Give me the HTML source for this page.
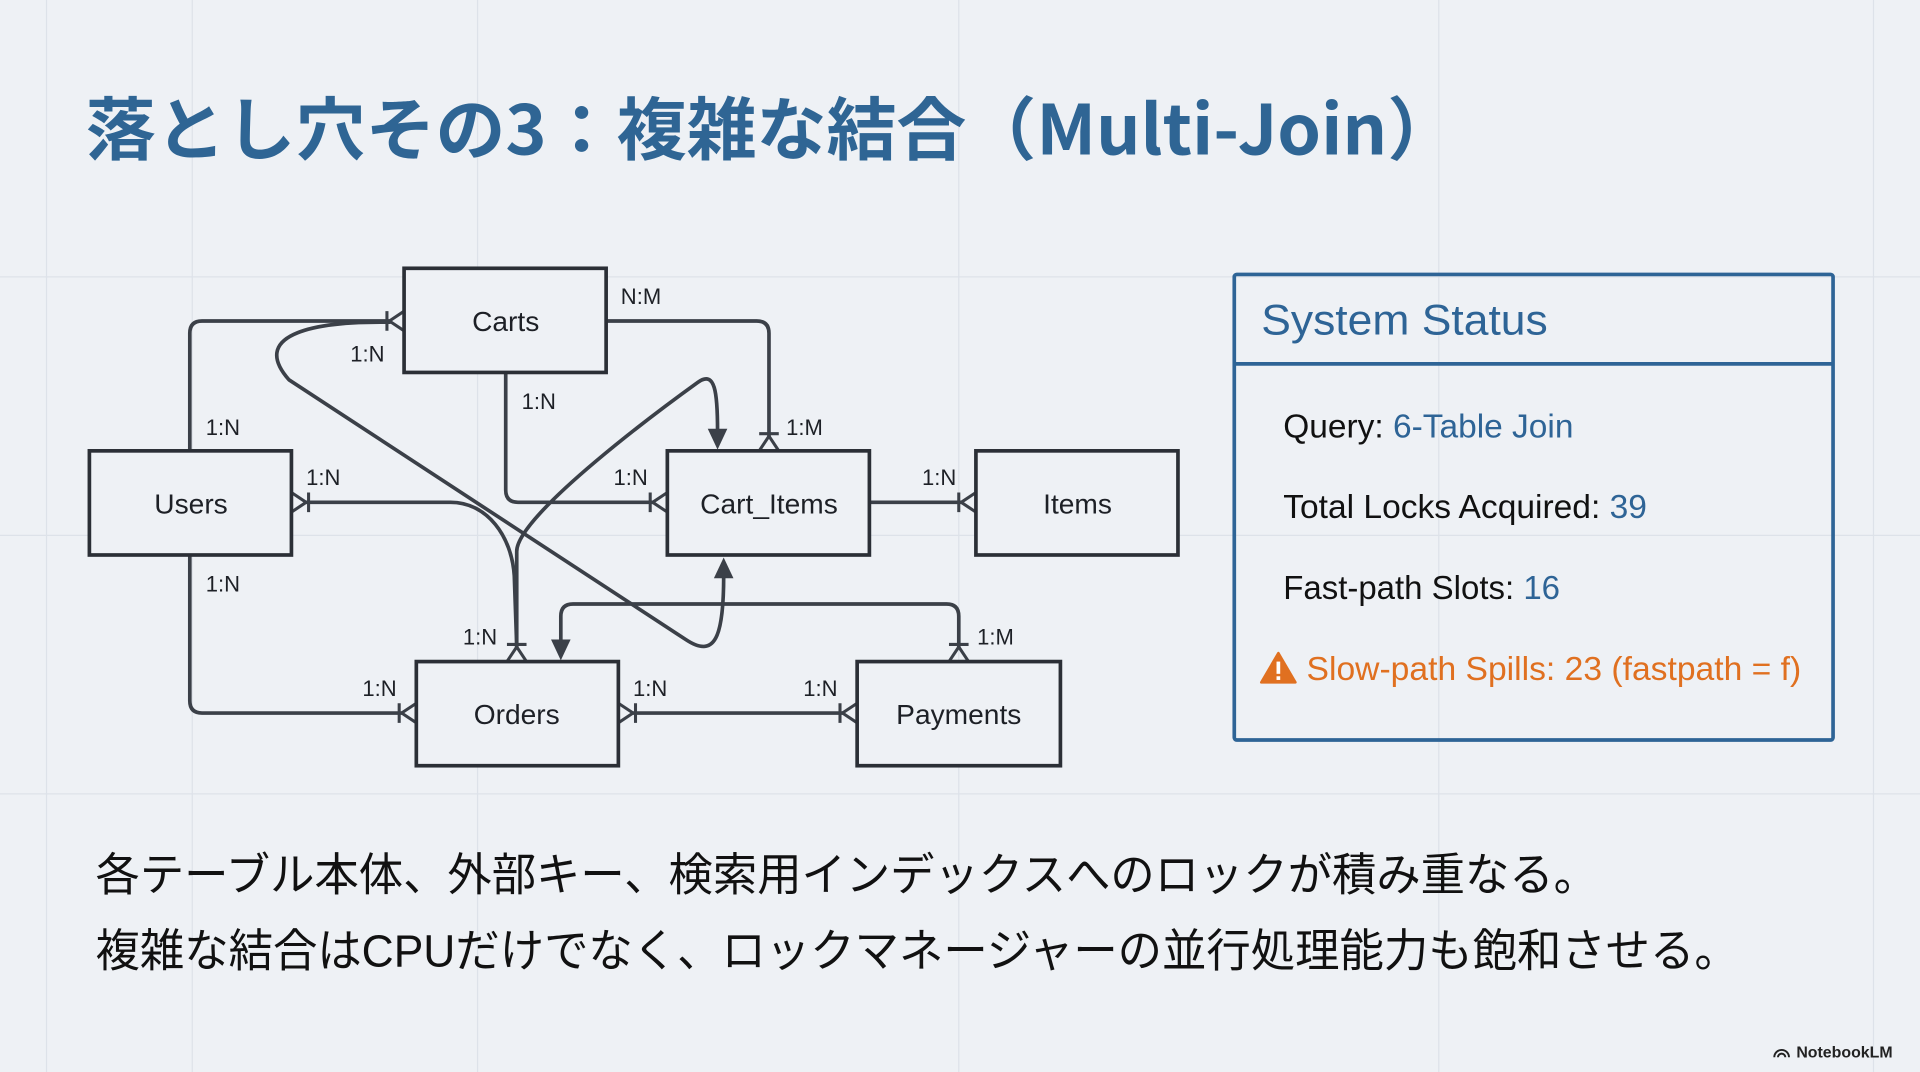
<!DOCTYPE html>
<html><head><meta charset="utf-8"><style>
html,body{margin:0;padding:0;background:#eef1f5;overflow:hidden}
svg{display:block}
text{font-family:"Liberation Sans","Noto Sans CJK JP",sans-serif}
</style></head><body>
<svg width="1920" height="1072" viewBox="0 0 1568 875" preserveAspectRatio="none" xmlns="http://www.w3.org/2000/svg">
<rect width="1568" height="875" fill="#eef1f5"/>
<g stroke="#dde2e9" stroke-width="1">
<line x1="38" y1="0" x2="38" y2="875"/><line x1="157" y1="0" x2="157" y2="875"/>
<line x1="390" y1="0" x2="390" y2="875"/><line x1="783" y1="0" x2="783" y2="875"/>
<line x1="1175" y1="0" x2="1175" y2="875"/><line x1="1530" y1="0" x2="1530" y2="875"/>
<line x1="0" y1="226" x2="1568" y2="226"/><line x1="0" y1="437" x2="1568" y2="437"/>
<line x1="0" y1="648" x2="1568" y2="648"/>
</g>
<text x="70" y="126" font-size="56" font-weight="bold" fill="#2f6594" style="font-family:'Noto Sans CJK JP',sans-serif" textLength="1120" lengthAdjust="spacingAndGlyphs">落とし穴その3：複雑な結合（Multi-Join）</text>

<g fill="none" stroke="#3b4048" stroke-width="3" stroke-linejoin="round" stroke-linecap="round">
<path d="M155,368 L155,272 Q155,262 165,262 L318,262"/>
<path d="M495,262 L618,262 Q628,262 628,272 L628,356"/>
<path d="M413,304 L413,400 Q413,410 423,410 L533,410"/>
<path d="M710,410 L785,410"/>
<path d="M155,453 L155,572 Q155,582 165,582 L328,582"/>
<path d="M517,582 L688,582"/>
<path d="M783,528 L783,503 Q783,493 773,493 L468,493 Q458,493 458,503 L458,525"/>
<path d="M318,263 C250,262 205,275 236,310 L560,522 C584,538 591,520 591,470"/>
<path d="M422,528 L422,450 C422,420 545,330 570,312 C584,302 586,320 586,352"/>
<path d="M250,410 L368,410 C398,410 418,438 420,470 L422,528"/>
</g>
<g fill="#3b4048">
<polygon points="591,455 583,472 599,472"/>
<polygon points="586,367 578,350 594,350"/>
<polygon points="458,539 450,522 466,522"/>
</g>
<g fill="none" stroke="#3b4048" stroke-width="2.5">
<path d="M318,262 L330,254 M318,262 L330,270 M316,254 L316,270"/>
<path d="M628,356 L620,368 M628,356 L636,368 M620,354 L636,354"/>
<path d="M533,410 L545,402 M533,410 L545,418 M531,402 L531,418"/>
<path d="M785,410 L797,402 M785,410 L797,418 M783,402 L783,418"/>
<path d="M250,410 L238,402 M250,410 L238,418 M252,402 L252,418"/>
<path d="M422,528 L414,540 M422,528 L430,540 M414,526 L430,526"/>
<path d="M328,582 L340,574 M328,582 L340,590 M326,574 L326,590"/>
<path d="M517,582 L505,574 M517,582 L505,590 M519,574 L519,590"/>
<path d="M688,582 L700,574 M688,582 L700,590 M686,574 L686,590"/>
<path d="M783,528 L775,540 M783,528 L791,540 M775,526 L791,526"/>
</g>
<g fill="#eef1f5" stroke="#2b2f36" stroke-width="3">
<rect x="330" y="219" width="165" height="85"/>
<rect x="73" y="368" width="165" height="85"/>
<rect x="545" y="368" width="165" height="85"/>
<rect x="797" y="368" width="165" height="85"/>
<rect x="340" y="540" width="165" height="85"/>
<rect x="700" y="540" width="166" height="85"/>
</g>
<g font-size="23" fill="#1d2026" text-anchor="middle">
<text x="413" y="270">Carts</text>
<text x="156" y="419">Users</text>
<text x="628" y="419">Cart_Items</text>
<text x="880" y="419">Items</text>
<text x="422" y="591">Orders</text>
<text x="783" y="591">Payments</text>
</g>
<g font-size="18" fill="#1d2026">
<text x="507" y="248">N:M</text>
<text x="286" y="295">1:N</text>
<text x="426" y="334">1:N</text>
<text x="168" y="355">1:N</text>
<text x="642" y="355">1:M</text>
<text x="250" y="396">1:N</text>
<text x="501" y="396">1:N</text>
<text x="753" y="396">1:N</text>
<text x="168" y="483">1:N</text>
<text x="378" y="526">1:N</text>
<text x="798" y="526">1:M</text>
<text x="296" y="568">1:N</text>
<text x="517" y="568">1:N</text>
<text x="656" y="568">1:N</text>
</g>

<rect x="1008" y="224" width="489" height="380" fill="none" stroke="#2e6496" stroke-width="3" rx="2"/>
<line x1="1008" y1="297" x2="1497" y2="297" stroke="#2e6496" stroke-width="3"/>
<text x="1030" y="273" font-size="35" fill="#2e6496" textLength="234" lengthAdjust="spacingAndGlyphs">System Status</text>
<g font-size="27" fill="#111">
<text x="1048" y="357" textLength="237" lengthAdjust="spacingAndGlyphs">Query: <tspan fill="#2e6496">6-Table Join</tspan></text>
<text x="1048" y="423" textLength="297" lengthAdjust="spacingAndGlyphs">Total Locks Acquired: <tspan fill="#2e6496">39</tspan></text>
<text x="1048" y="489" textLength="226" lengthAdjust="spacingAndGlyphs">Fast-path Slots: <tspan fill="#2e6496">16</tspan></text>
<text x="1067" y="555" fill="#e07020" textLength="404" lengthAdjust="spacingAndGlyphs">Slow-path Spills: 23 (fastpath = f)</text>
</g>
<polygon points="1044,533 1030,557 1058,557" fill="#e07020" stroke="#e07020" stroke-width="2" stroke-linejoin="round"/>
<rect x="1042.5" y="540" width="3" height="10" fill="#fff"/><rect x="1042.5" y="552" width="3" height="3" fill="#fff"/>

<g font-size="37" fill="#111" style="font-family:'Liberation Sans','Noto Sans CJK JP',sans-serif">
<text x="78" y="727" textLength="1227" lengthAdjust="spacingAndGlyphs">各テーブル本体、外部キー、検索用インデックスへのロックが積み重なる。</text>
<text x="78" y="789" textLength="1342" lengthAdjust="spacingAndGlyphs">複雑な結合はCPUだけでなく、ロックマネージャーの並行処理能力も飽和させる。</text>
</g>
<g fill="none" stroke="#222" stroke-width="1.6">
<path d="M1449,863 A6,6 0 0 1 1461,863"/><path d="M1452,863 A3,3 0 0 1 1458,863"/>
</g>
<text x="1467" y="863" font-size="13" font-weight="bold" fill="#222">NotebookLM</text>
</svg>
</body></html>
